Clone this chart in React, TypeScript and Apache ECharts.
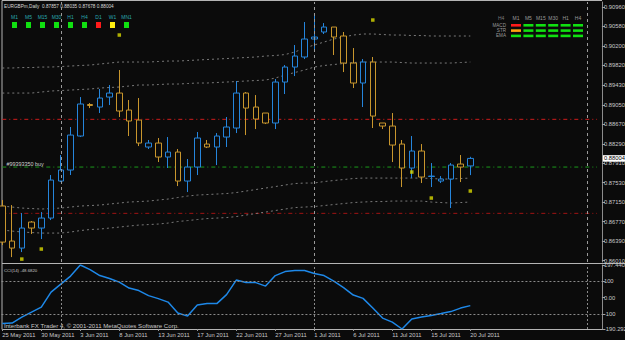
import React, { useEffect, useRef } from 'react';
import * as echarts from 'echarts';

// ---------- data ----------
const dates = [
  '25 May 2011', '26 May 2011', '27 May 2011', '29 May 2011', '30 May 2011', '31 May 2011',
  '1 Jun 2011', '2 Jun 2011', '3 Jun 2011', '5 Jun 2011', '6 Jun 2011', '7 Jun 2011',
  '8 Jun 2011', '9 Jun 2011', '10 Jun 2011', '12 Jun 2011', '13 Jun 2011', '14 Jun 2011',
  '15 Jun 2011', '16 Jun 2011', '17 Jun 2011', '19 Jun 2011', '20 Jun 2011', '21 Jun 2011',
  '22 Jun 2011', '23 Jun 2011', '24 Jun 2011', '26 Jun 2011', '27 Jun 2011', '28 Jun 2011',
  '29 Jun 2011', '30 Jun 2011', '1 Jul 2011', '3 Jul 2011', '4 Jul 2011', '5 Jul 2011',
  '6 Jul 2011', '7 Jul 2011', '8 Jul 2011', '10 Jul 2011', '11 Jul 2011', '12 Jul 2011',
  '13 Jul 2011', '14 Jul 2011', '15 Jul 2011', '17 Jul 2011', '18 Jul 2011', '19 Jul 2011',
  '20 Jul 2011',
  // empty (shifted) space on the right
  '21 Jul 2011', '22 Jul 2011', '24 Jul 2011', '25 Jul 2011', '26 Jul 2011', '27 Jul 2011',
  '28 Jul 2011', '29 Jul 2011', '31 Jul 2011', '1 Aug 2011', '2 Aug 2011', '3 Aug 2011', '4 Aug 2011',
];
const lastBar = 48;
const lastSlot = 61;

const opens = [
  0.87074, 0.86390, 0.86253, 0.86761, 0.86644, 0.86839, 0.87562, 0.87777, 0.88441, 0.89056,
  0.89007, 0.89202, 0.89280, 0.88948, 0.88753, 0.88226, 0.88304, 0.88031, 0.88128, 0.87562,
  0.87835, 0.88284, 0.88226, 0.88421, 0.88597, 0.89280, 0.89007, 0.88890, 0.88695, 0.89495,
  0.89788, 0.89984, 0.90335, 0.90472, 0.90569, 0.90394, 0.89866, 0.89476, 0.89886, 0.88695,
  0.88636, 0.88284, 0.87816, 0.88148, 0.87650, 0.87562, 0.87601, 0.87894, 0.87857,
];
const closes = [
  0.86370, 0.86253, 0.86644, 0.86644, 0.86839, 0.87581, 0.87777, 0.88460, 0.89066, 0.89037,
  0.89183, 0.89280, 0.88929, 0.88734, 0.88304, 0.88304, 0.88031, 0.88128, 0.87562, 0.87835,
  0.88402, 0.88226, 0.88441, 0.88617, 0.89280, 0.88987, 0.88773, 0.88695, 0.89495, 0.89788,
  0.90003, 0.90335, 0.90374, 0.90569, 0.90374, 0.89866, 0.89476, 0.89886, 0.88831, 0.88636,
  0.88265, 0.87816, 0.88148, 0.87640, 0.87659, 0.87601, 0.87874, 0.87835, 0.88004,
];
const lows = [
  0.86312, 0.86077, 0.86175, 0.86527, 0.86429, 0.86800, 0.87542, 0.87679, 0.88421, 0.88987,
  0.88890, 0.89046, 0.88812, 0.88441, 0.88245, 0.88187, 0.87933, 0.87816, 0.87464, 0.87347,
  0.87679, 0.88206, 0.87874, 0.88226, 0.88499, 0.88460, 0.88577, 0.88675, 0.88577, 0.89261,
  0.89612, 0.89944, 0.90120, 0.90433, 0.90023, 0.89690, 0.89378, 0.89007, 0.88597, 0.88577,
  0.87933, 0.87445, 0.87620, 0.87523, 0.87445, 0.87523, 0.87035, 0.87542, 0.87678,
];
const highs = [
  0.87191, 0.87093, 0.86937, 0.86781, 0.86956, 0.87679, 0.88070, 0.88617, 0.89202, 0.89085,
  0.89359, 0.89437, 0.89730, 0.89144, 0.89183, 0.88363, 0.88402, 0.88421, 0.88187, 0.87992,
  0.88519, 0.88363, 0.88499, 0.88812, 0.89515, 0.89300, 0.89241, 0.88890, 0.89554, 0.89827,
  0.90218, 0.90667, 0.90804, 0.90647, 0.90569, 0.90472, 0.90159, 0.89944, 0.89984, 0.88695,
  0.88890, 0.88363, 0.88441, 0.88284, 0.87913, 0.87659, 0.87913, 0.88070, 0.88035,
];

const envUpperOuter = [
  0.89769, 0.89769, 0.89778, 0.89778, 0.89788, 0.89788, 0.89798, 0.89808, 0.89818, 0.89827,
  0.89847, 0.89866, 0.89886, 0.89886, 0.89886, 0.89886, 0.89896, 0.89905, 0.89905, 0.89915,
  0.89925, 0.89935, 0.89944, 0.89954, 0.89964, 0.89974, 0.89984, 0.90003, 0.90013, 0.90032,
  0.90081, 0.90159, 0.90218, 0.90276, 0.90335, 0.90374, 0.90413, 0.90433, 0.90433, 0.90423,
  0.90413, 0.90413, 0.90403, 0.90403, 0.90394, 0.90394, 0.90394, 0.90394, 0.90394,
];
const envUpperInner = [
  0.89280, 0.89280, 0.89280, 0.89280, 0.89300, 0.89320, 0.89329, 0.89339, 0.89349, 0.89359,
  0.89378, 0.89388, 0.89398, 0.89417, 0.89437, 0.89437, 0.89446, 0.89456, 0.89456, 0.89466,
  0.89476, 0.89476, 0.89486, 0.89495, 0.89505, 0.89515, 0.89525, 0.89534, 0.89573, 0.89632,
  0.89681, 0.89730, 0.89788, 0.89818, 0.89837, 0.89857, 0.89876, 0.89886, 0.89886, 0.89886,
  0.89886, 0.89876, 0.89866, 0.89866, 0.89866, 0.89866, 0.89866, 0.89876, 0.89886,
];
const envLowerInner = [
  0.87074, 0.87054, 0.87034, 0.87025, 0.87015, 0.87025, 0.87034, 0.87054, 0.87074, 0.87083,
  0.87093, 0.87113, 0.87132, 0.87152, 0.87161, 0.87171, 0.87191, 0.87210, 0.87240, 0.87269,
  0.87288, 0.87298, 0.87308, 0.87318, 0.87337, 0.87367, 0.87396, 0.87425, 0.87454, 0.87484,
  0.87513, 0.87523, 0.87523, 0.87552, 0.87572, 0.87591, 0.87611, 0.87620, 0.87620, 0.87620,
  0.87620, 0.87620, 0.87620, 0.87620, 0.87611, 0.87601, 0.87601, 0.87611, 0.87620,
];
const envLowerOuter = [
  0.86605, 0.86585, 0.86566, 0.86556, 0.86546, 0.86546, 0.86546, 0.86566, 0.86595, 0.86615,
  0.86624, 0.86644, 0.86663, 0.86683, 0.86702, 0.86712, 0.86722, 0.86741, 0.86771, 0.86790,
  0.86810, 0.86829, 0.86839, 0.86849, 0.86868, 0.86898, 0.86927, 0.86956, 0.86986, 0.87015,
  0.87044, 0.87054, 0.87064, 0.87083, 0.87103, 0.87122, 0.87142, 0.87152, 0.87161, 0.87161,
  0.87171, 0.87171, 0.87171, 0.87171, 0.87152, 0.87142, 0.87132, 0.87142, 0.87152,
];

const cci = [
  -157.6, -154.5, -118.2, -87.9, -57.6, 33.3, 81.8, 130.3, 197.44, 169.7,
  133.3, 115.2, 93.9, 57.6, 42.4, 12.1, -6.1, -27.3, -93.9, -112.1,
  -45.5, -36.4, -36.4, 18.2, 106.1, 90.9, 90.9, 69.7, 133.3, 157.6,
  163.6, 163.6, 145.5, 133.3, 100.0, 60.6, 15.2, -4.8, -63.6, -124.2,
  -148.5, -190.292, -130.3, -118.2, -107.9, -97.0, -84.8, -63.6, -48.682,
];

const markerIdx = [2, 4, 12, 38, 42, 44, 48];
const markerPrice = [0.86038, 0.86234, 0.90413, 0.90706, 0.87738, 0.87230, 0.87367];

const priceTicks = [
  0.9096, 0.9058, 0.902, 0.8982, 0.8943, 0.8905, 0.8867, 0.8829, 0.8791, 0.8753, 0.8715, 0.8677, 0.8639, 0.8601,
];
const cciTicks = [197.44, 100, 0, -100, -190.292];
const cciTickLabels = ['197.4400', '100', '0.00', '-100', '-190.2920'];

const priceMin = 0.85981;
const priceMax = 0.91058;
const cciMin = -190.292;
const cciMax = 197.44;

const lastPrice = 0.88004;
const orderLevels = [0.88767, 0.87835, 0.86931]; // take-profit, buy, stop-loss
const orderColors = ['#d01c1c', '#1c9a1c', '#a01414'];
const buyLevel = 0.87835;
const separatorIdx = [6, 32, 60];
const cciLevels = [100, -100];

const headerText = 'EURGBPm,Daily  0.87857 0.88035 0.87678 0.88004';
const cciTitle = 'CCI(14) -48.6820';
const orderLabel = '#99393350 buy';
const copyright = 'Interbank FX Trader 4, \u00a9 2001-2011 MetaQuotes Software Corp.';

const tfLabels = ['M1', 'M5', 'M15', 'M30', 'H1', 'H4', 'D1', 'W1', 'MN1'];
const tfStates = ['g', 'g', 'g', 'g', 'g', 'g', 'r', 'y', 'g'];

const panelCols = ['M1', 'M5', 'M15', 'M30', 'H1', 'H4'];
const panelRows = ['MACD', 'STR', 'EMA'];
const panelStates = [
  ['r', 'g', 'g', 'g', 'g', 'g'],
  ['o', 'g', 'g', 'g', 'g', 'g'],
  ['g', 'g', 'g', 'g', 'g', 'g'],
];

// ---------- styles ----------
const BG = '#0b0b0b';
const BLUE = '#2585dc';
const GOLD = '#c8962d';
const FONT = 'Liberation Sans';
const stateColor: Record<string, string> = {
  g: '#10e010',
  r: '#ff1a1a',
  y: '#ffee10',
  o: '#ffa010',
};

export default function App() {
  const ref = useRef<HTMLDivElement>(null);

  useEffect(() => {
    document.body.style.margin = '0';
    document.body.style.background = BG;
    if (!ref.current) return;
    const chart = echarts.init(ref.current, undefined, { renderer: 'svg' });

    const labelEvery = (idx: number) => idx % 4 === 0 && idx <= lastBar;

    const graphics: any[] = [];
    const line = (x1: number, y1: number, x2: number, y2: number, stroke: string) =>
      graphics.push({ type: 'line', silent: true, shape: { x1, y1, x2, y2 }, style: { stroke, lineWidth: 1 } });
    const text = (t: string, x: number, y: number, fill: string, fontSize: number, align = 'left') =>
      graphics.push({
        type: 'text', silent: true, x, y,
        style: { text: t, fill, fontSize, fontFamily: FONT, align, verticalAlign: 'middle' },
      });

    // pane borders
    line(2, 0.5, 2, 329.5, '#b4b4b4');
    line(2, 0.5, 602, 0.5, '#b4b4b4');
    line(2, 263.5, 625, 263.5, '#b4b4b4');
    line(2, 329.5, 602, 329.5, '#b4b4b4');

    // header texts
    text(headerText, 4, 6.5, '#d8d8d8', 4.7);
    text(cciTitle, 4, 270.5, '#c8c8c8', 4.3);
    text(copyright, 4, 325.5, '#c8c8c8', 6.1);

    // time-frame squares, top left
    tfLabels.forEach((l, i) => {
      const cx = 14.5 + i * 14;
      text(l, cx, 16.5, '#2aa8b0', 5, 'center');
      graphics.push({
        type: 'rect', silent: true,
        shape: { x: cx - 2.5, y: 22, width: 5, height: 6 },
        style: { fill: stateColor[tfStates[i]] },
      });
    });

    // signal panel, top right
    text('H4', 498, 18, '#7a7a7a', 5, 'left');
    panelCols.forEach((c, j) => {
      const cx = 516 + j * 12.4;
      text(c, cx, 18, '#9a9a9a', 5, 'center');
      panelRows.forEach((r, k) => {
        graphics.push({
          type: 'rect', silent: true,
          shape: { x: cx - 5, y: 24 + k * 5.3, width: 10, height: 2.6 },
          style: { fill: stateColor[panelStates[k][j]] },
        });
      });
    });
    panelRows.forEach((r, k) => text(r, 506, 25.3 + k * 5.3, '#9a9a9a', 4.6, 'right'));

    const envLine = (data: number[]) => ({
      type: 'line', xAxisIndex: 0, yAxisIndex: 0, data, symbol: 'none', silent: true,
      lineStyle: { color: '#7a7a7a', width: 1, type: [2, 3] },
    });

    // order levels drawn as two-point line series across the whole time range
    const levelSeries = orderLevels.map((v, i) => ({
      type: 'line', xAxisIndex: 0, yAxisIndex: 0, symbol: 'none', silent: true,
      data: [[0, v], [lastSlot, v]],
      lineStyle: { color: orderColors[i], width: 1, type: [4, 3, 1, 3] },
      z: 1,
    }));

    const mainMarkLine = {
      symbol: ['none', 'none'], silent: true, animation: false, precision: 6, label: { show: false },
      data: [
        {
          yAxis: buyLevel, lineStyle: { color: 'rgba(0,0,0,0)', width: 0 },
          label: {
            show: true, position: 'insideStartTop', formatter: orderLabel, color: '#d0d0d0',
            fontSize: 5.4, distance: [9, 1], fontFamily: FONT,
          },
        },
        ...separatorIdx.map((i) => ({ xAxis: i, lineStyle: { color: '#9a9a9a', type: [3, 3], width: 1 } })),
      ],
    };

    const option: any = {
      animation: false,
      backgroundColor: BG,
      textStyle: { fontFamily: FONT },
      grid: [
        { left: -2.575, top: 2, width: 604.5, height: 260, outerBoundsMode: 'none', containLabel: false },
        { left: -2.575, top: 265, width: 604.5, height: 64, outerBoundsMode: 'none', containLabel: false },
      ],
      xAxis: [
        {
          type: 'category', gridIndex: 0, data: dates, boundaryGap: true,
          axisLine: { show: false, onZero: false }, axisTick: { show: false }, axisLabel: { show: false },
          splitLine: { show: false },
        },
        {
          type: 'category', gridIndex: 1, data: dates, boundaryGap: true,
          axisLine: { show: false, onZero: false },
          axisTick: { show: true, alignWithLabel: true, interval: labelEvery, length: 2, lineStyle: { color: '#9a9a9a' } },
          axisLabel: {
            interval: labelEvery, align: 'left', color: '#c8c8c8', fontSize: 5.8, margin: 3, fontFamily: FONT,
          },
          splitLine: { show: false },
        },
      ],
      yAxis: [
        {
          type: 'value', gridIndex: 0, position: 'right', min: priceMin, max: priceMax,
          axisLine: { show: true, lineStyle: { color: '#8c8c8c' } },
          axisTick: { show: true, customValues: priceTicks, length: 3, lineStyle: { color: '#a0a0a0' } },
          axisLabel: {
            customValues: priceTicks, formatter: (v: number) => v.toFixed(5),
            color: '#c8c8c8', fontSize: 5.8, margin: 2, fontFamily: FONT,
          },
          splitLine: { show: false },
        },
        {
          type: 'value', gridIndex: 1, position: 'right', min: cciMin, max: cciMax,
          axisLine: { show: true, lineStyle: { color: '#8c8c8c' } },
          axisTick: { show: true, customValues: cciTicks, length: 3, lineStyle: { color: '#a0a0a0' } },
          axisLabel: {
            customValues: cciTicks,
            formatter: (v: number) => {
              let best = 0;
              cciTicks.forEach((t, i) => { if (Math.abs(t - v) < Math.abs(cciTicks[best] - v)) best = i; });
              return cciTickLabels[best];
            },
            color: '#c8c8c8', fontSize: 5.8, margin: 2, fontFamily: FONT,
          },
          splitLine: { show: false },
        },
        {
          // current price tag
          type: 'value', gridIndex: 0, position: 'right', min: priceMin, max: priceMax, z: 10,
          axisLine: { show: false }, axisTick: { show: false }, splitLine: { show: false },
          axisLabel: {
            customValues: [lastPrice], formatter: (v: number) => v.toFixed(5),
            color: '#000000', backgroundColor: '#ffffff', fontSize: 5.8, lineHeight: 6.5,
            padding: [0, 6, 0, 1], margin: 1, fontFamily: FONT,
          },
        },
      ],
      series: [
        envLine(envUpperOuter),
        envLine(envUpperInner),
        envLine(envLowerInner),
        envLine(envLowerOuter),
        ...levelSeries,
        {
          type: 'candlestick', xAxisIndex: 0, yAxisIndex: 0, barWidth: 6, silent: true,
          data: opens.map((o, i) => [o, closes[i], lows[i], highs[i]]),
          itemStyle: { color: BG, color0: BG, borderColor: BLUE, borderColor0: GOLD, borderWidth: 1 },
          markLine: mainMarkLine,
          z: 3,
        },
        {
          type: 'scatter', xAxisIndex: 0, yAxisIndex: 0, silent: true,
          data: markerIdx.map((x, i) => [x, markerPrice[i]]),
          symbol: 'rect', symbolSize: 3.5, itemStyle: { color: '#d8d800' }, z: 4,
        },
        {
          type: 'line', xAxisIndex: 1, yAxisIndex: 1, data: cci, symbol: 'none', silent: true,
          lineStyle: { color: '#1e88e8', width: 1.5 },
          markLine: {
            symbol: ['none', 'none'], silent: true, animation: false, precision: 4, label: { show: false },
            data: [
              ...cciLevels.map((v) => ({ yAxis: v, lineStyle: { color: '#8a8a8a', type: [2, 2], width: 1 } })),
              ...separatorIdx.map((i) => ({ xAxis: i, lineStyle: { color: '#8a8a8a', type: [2, 2], width: 1 } })),
            ],
          },
        },
      ],
      graphic: graphics,
    };

    chart.setOption(option);
    return () => chart.dispose();
  }, []);

  return <div ref={ref} style={{ width: 625, height: 340, background: BG }} />;
}
